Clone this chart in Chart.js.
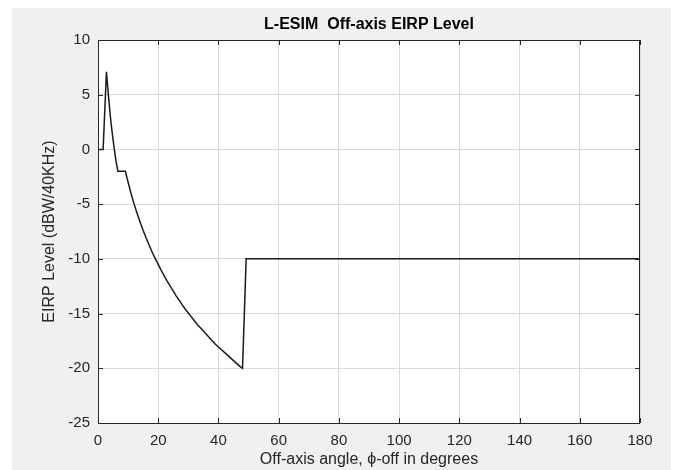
<!DOCTYPE html>
<html>
<head>
<meta charset="utf-8">
<script src="https://cdn.jsdelivr.net/npm/chart.js@4.4.1/dist/chart.umd.min.js"></script>
<style>
  html, body { margin: 0; padding: 0; background: #ffffff; }
  #wrap { position: relative; width: 683px; height: 470px; }
  #figure { position: absolute; left: 12px; top: 8px; width: 659px; height: 462px; background: #f0f0f0; }
  #chart { position: absolute; left: 0; top: 0; }
</style>
</head>
<body>
<div id="wrap">
  <div id="figure"></div>
  <canvas id="chart" width="683" height="470"></canvas>
</div>
<script>
// Off-axis angle (deg) and EIRP level (dBW/40kHz)
const angles = [0, 1.7, 2.8, 3.2, 3.5, 4, 4.5, 5, 5.5, 6, 6.6, 9.1,
    10, 11, 12, 13, 14, 15, 16, 17, 18, 19, 20, 21, 22, 23, 24, 25, 26, 27, 28, 29,
    30, 31, 32, 33, 34, 35, 36, 37, 38, 39, 40, 41, 42, 43, 44, 45, 46, 47, 48, 49.2, 180];
const eirp = [0, 0, 7.1, 5.8, 4.8, 3.3, 2.0, 0.9, -0.15, -1.1, -2.0, -2.0,
    -3.0, -4.05, -5.0, -5.85, -6.65, -7.4, -8.1, -8.75, -9.4, -9.95, -10.5, -11.05, -11.55, -12.05, -12.5, -12.95, -13.4, -13.8, -14.2, -14.6,
    -14.95, -15.3, -15.65, -16.0, -16.3, -16.6, -16.9, -17.2, -17.5, -17.8, -18.05, -18.3, -18.55, -18.8, -19.05, -19.3, -19.55, -19.8, -20.0, -10, -10];

const xTicks = [0, 20, 40, 60, 80, 100, 120, 140, 160, 180];
const yTicks = [-25, -20, -15, -10, -5, 0, 5, 10];

const axisColor = '#262626';

Chart.defaults.font.family = '"Liberation Sans", Arial, sans-serif';
Chart.defaults.color = axisColor;

// white axes area, box, inner ticks and title like MATLAB
const matlabAxes = {
    id: 'matlabAxes',
    beforeDraw(chart) {
        const { ctx, chartArea: a } = chart;
        ctx.save();
        ctx.fillStyle = '#ffffff';
        ctx.fillRect(a.left, a.top, a.right - a.left, a.bottom - a.top);
        ctx.restore();
    },
    afterDraw(chart) {
        const { ctx, chartArea: a, scales } = chart;
        ctx.save();
        ctx.strokeStyle = axisColor;
        ctx.lineWidth = 1;
        ctx.strokeRect(a.left + 0.5, a.top + 0.5, a.right - a.left - 1, a.bottom - a.top);
        ctx.beginPath();
        xTicks.forEach(v => {
            const x = Math.round(scales.x.getPixelForValue(v)) + 0.5;
            ctx.moveTo(x, a.bottom); ctx.lineTo(x, a.bottom - 5);
            ctx.moveTo(x, a.top); ctx.lineTo(x, a.top + 5);
        });
        yTicks.forEach(v => {
            const y = Math.round(scales.y.getPixelForValue(v)) + 0.5;
            ctx.moveTo(a.left, y); ctx.lineTo(a.left + 5, y);
            ctx.moveTo(a.right, y); ctx.lineTo(a.right - 5, y);
        });
        ctx.stroke();

        ctx.fillStyle = '#000000';
        ctx.font = 'bold 16px "Liberation Sans", Arial, sans-serif';
        ctx.textAlign = 'center';
        ctx.textBaseline = 'middle';
        ctx.fillText('L-ESIM  Off-axis EIRP Level', (a.left + a.right) / 2, 25);
        ctx.restore();
    }
};

new Chart(document.getElementById('chart'), {
    type: 'line',
    data: {
        datasets: [{
            data: angles.map((a, i) => ({ x: a, y: eirp[i] })),
            borderColor: '#1a1a1a',
            borderWidth: 1.5,
            pointRadius: 0,
            tension: 0,
            fill: false
        }]
    },
    options: {
        responsive: false,
        animation: false,
        layout: { padding: { top: 40, right: 43, left: 0, bottom: 0 } },
        plugins: {
            legend: { display: false },
            tooltip: { enabled: false }
        },
        scales: {
            x: {
                type: 'linear',
                min: 0,
                max: 180,
                afterFit: s => { s.height = 47; },
                afterBuildTicks: s => { s.ticks = xTicks.map(v => ({ value: v })); },
                grid: { color: '#dadada', drawTicks: false },
                border: { display: false },
                ticks: { padding: 9, font: { size: 15 }, color: axisColor },
                title: {
                    display: true,
                    text: 'Off-axis angle, \u03d5-off in degrees',
                    font: { size: 16 },
                    color: axisColor,
                    padding: { top: 0, bottom: 1 }
                }
            },
            y: {
                type: 'linear',
                min: -25,
                max: 10,
                afterFit: s => { s.width = 98; },
                afterBuildTicks: s => { s.ticks = yTicks.map(v => ({ value: v })); },
                grid: { color: '#dadada', drawTicks: false },
                border: { display: false },
                ticks: { padding: 8, font: { size: 15 }, color: axisColor },
                title: {
                    display: true,
                    text: 'EIRP Level (dBW/40KHz)',
                    font: { size: 16 },
                    color: axisColor,
                    padding: { top: 40, bottom: 0 }
                }
            }
        }
    },
    plugins: [matlabAxes]
});
</script>
</body>
</html>
